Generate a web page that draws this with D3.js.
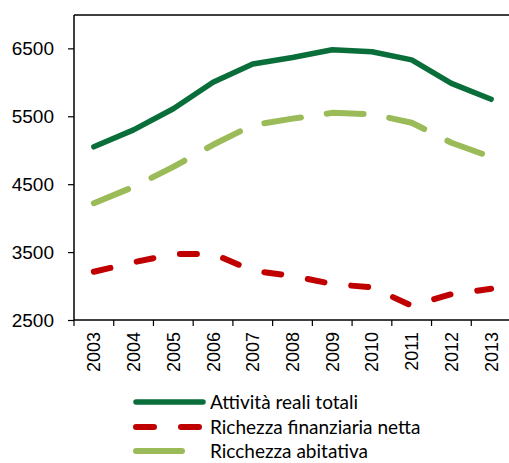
<!DOCTYPE html>
<html><head><meta charset="utf-8">
<script src="https://cdn.jsdelivr.net/npm/d3@7"></script>
<style>body{margin:0;background:#fff;} svg{display:block;font-family:Lato,"Liberation Sans",sans-serif;}</style>
</head><body>
<script>
const years = ["2003","2004","2005","2006","2007","2008","2009","2010","2011","2012","2013"];
const attivitaReali = [5050,5300,5610,6000,6270,6365,6480,6450,6330,5985,5750];
const ricchezzaFinanziaria = [3210,3350,3470,3475,3225,3150,3030,2980,2710,2880,2960];
const ricchezzaAbitativa = [4220,4460,4755,5080,5370,5465,5550,5530,5405,5110,4900];
const yTicks = [2500,3500,4500,5500,6500];
const seriesNames = ["Attività reali totali","Richezza finanziaria netta","Ricchezza abitativa"];

const W = 509, H = 463;
const m = {left:74, top:15, right:511, bottom:320};
const svg = d3.select("body").append("svg").attr("width",W).attr("height",H);

const x = d3.scaleBand().domain(years).range([m.left, m.right]);
const y = d3.scaleLinear().domain([2500,7000]).range([m.bottom, m.top - 0.6]);

// frame top
svg.append("line").attr("x1",m.left).attr("x2",m.right).attr("y1",m.top).attr("y2",m.top)
  .attr("stroke","#000").attr("stroke-width",1.5);

const yAxis = svg.append("g").attr("transform",`translate(${m.left},0)`)
  .call(d3.axisLeft(y).tickValues(yTicks).tickSize(6).tickPadding(14).tickFormat(d3.format("d")));
yAxis.select(".domain").attr("d",`M0,${m.top}V${m.bottom}`).attr("stroke-width",1.5);
yAxis.selectAll("line").attr("stroke-width",1.2);
yAxis.selectAll("text").attr("font-size",19).attr("fill","#000").attr("font-family","inherit");

const xAxis = svg.append("g").attr("transform",`translate(0,${m.bottom})`)
  .call(d3.axisBottom(x).tickSize(0).tickSizeOuter(0));
xAxis.select(".domain").attr("d",`M${m.left},0H${m.right}`).attr("stroke-width",1.5);
xAxis.selectAll(".tick text").attr("font-size",18).attr("fill","#000").attr("font-family","inherit")
  .attr("transform","rotate(-90)").attr("text-anchor","end").attr("x",-12).attr("y",0).attr("dy","0.36em");
// tick marks at band boundaries
const bounds = years.map(d=>x(d)).concat([m.right]);
xAxis.selectAll(".bt").data(bounds).join("line").attr("class","bt")
  .attr("x1",d=>d).attr("x2",d=>d).attr("y1",0).attr("y2",6).attr("stroke","#000").attr("stroke-width",1.2);

const cx = d => x(d) + x.bandwidth()/2;
const line = d3.line().x((d,i)=>cx(years[i])).y(d=>y(d));

const series = [
  {vals: attivitaReali, color:"#0a6e3a", w:5.5, dash:null},
  {vals: ricchezzaFinanziaria, color:"#c00000", w:6, dash:"17,27"},
  {vals: ricchezzaAbitativa, color:"#9bbb59", w:6, dash:"37,26"}
];
series.forEach(s=>{
  svg.append("path").attr("d",line(s.vals)).attr("fill","none").attr("stroke",s.color)
    .attr("stroke-width",s.w).attr("stroke-linecap","round").attr("stroke-linejoin","round")
    .attr("stroke-dasharray",s.dash);
});

// legend
const lg = [
  {name:seriesNames[0], color:"#0a6e3a", w:5.5, dash:null, y:402},
  {name:seriesNames[1], color:"#c00000", w:6, dash:"18,27", y:427},
  {name:seriesNames[2], color:"#9bbb59", w:6, dash:"46,30", y:451}
];
lg.forEach(l=>{
  svg.append("line").attr("x1",136).attr("x2",203).attr("y1",l.y).attr("y2",l.y)
    .attr("stroke",l.color).attr("stroke-width",l.w).attr("stroke-linecap","round")
    .attr("stroke-dasharray",l.dash);
  svg.append("text").attr("x",210).attr("y",l.y).attr("dy","0.36em").attr("font-size",19)
    .attr("fill","#000").text(l.name);
});
</script>
</body></html>
